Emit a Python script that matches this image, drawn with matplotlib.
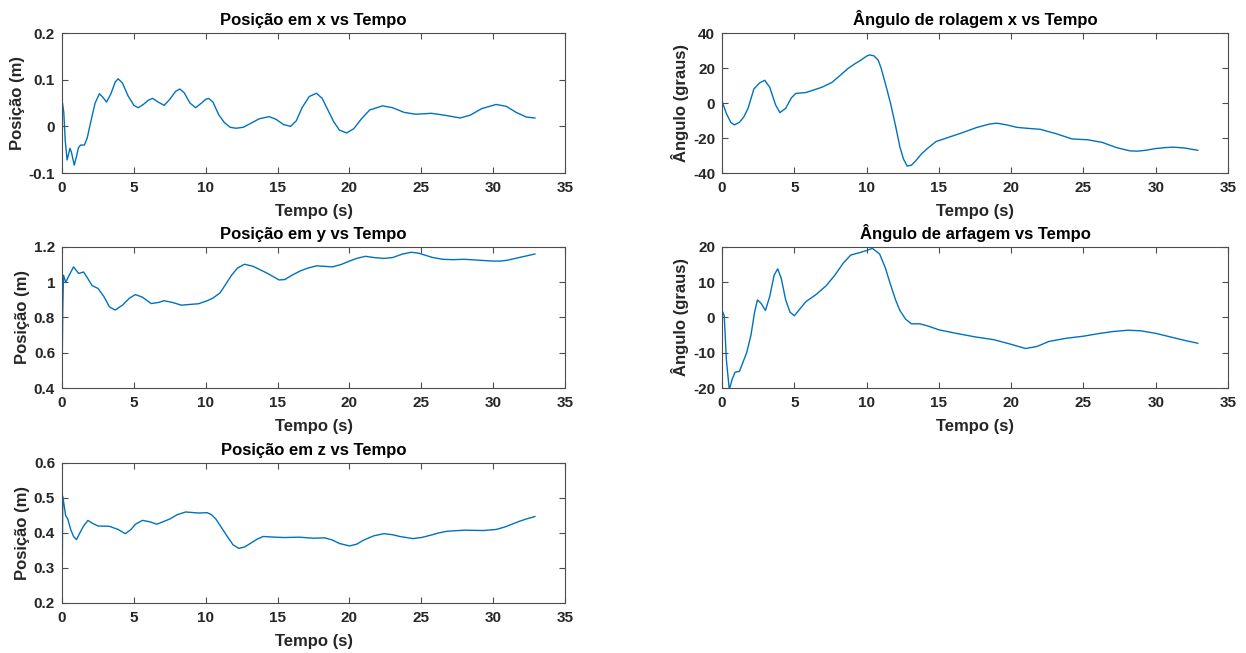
import matplotlib.pyplot as plt

plt.rcParams['font.family'] = ['Liberation Sans', 'DejaVu Sans']
plt.rcParams['font.weight'] = 'bold'

# Posição em x (m)
TX = [0.0, 0.03, 0.12, 0.22, 0.35, 0.45, 0.55, 0.65, 0.85, 1.0, 1.15, 1.3, 1.55, 1.75, 2.0, 2.3,
      2.6, 2.85, 3.1, 3.4, 3.7, 3.9, 4.2, 4.6, 5.0, 5.3, 5.7, 6.0, 6.3, 6.7, 7.1, 7.5, 7.9, 8.2,
      8.5, 8.9, 9.3, 9.7, 10.0, 10.2, 10.5, 10.9, 11.3, 11.7, 12.1, 12.6, 13.1, 13.7, 14.4, 14.9,
      15.4, 15.9, 16.3, 16.7, 17.2, 17.7, 18.1, 18.5, 18.9, 19.3, 19.8, 20.3, 20.8, 21.4, 22.3,
      23.0, 23.8, 24.6, 25.7, 26.6, 27.7, 28.4, 29.2, 30.2, 30.9, 31.6, 32.3, 32.9]
PosX = [0.0, 0.05, 0.03, -0.03, -0.072, -0.06, -0.047, -0.055, -0.083, -0.065, -0.045, -0.04,
        -0.04, -0.025, 0.01, 0.05, 0.07, 0.062, 0.052, 0.07, 0.095, 0.102, 0.093, 0.065, 0.045,
        0.04, 0.048, 0.056, 0.06, 0.052, 0.045, 0.058, 0.075, 0.08, 0.072, 0.05, 0.04, 0.05, 0.058,
        0.06, 0.052, 0.025, 0.008, -0.002, -0.004, -0.002, 0.006, 0.016, 0.021, 0.015, 0.004, 0.0,
        0.012, 0.04, 0.064, 0.071, 0.06, 0.035, 0.01, -0.008, -0.014, -0.005, 0.015, 0.035, 0.044,
        0.04, 0.03, 0.026, 0.028, 0.024, 0.018, 0.024, 0.038, 0.047, 0.043, 0.03, 0.02, 0.018]

# Ângulo de rolagem (graus)
TRoll = [0.0, 0.3, 0.6, 0.85, 1.2, 1.5, 1.8, 2.2, 2.6, 2.95, 3.3, 3.7, 4.0, 4.4, 4.8, 5.1, 5.8,
         6.9, 7.6, 8.2, 8.7, 9.2, 9.6, 10.0, 10.2, 10.5, 10.8, 11.0, 11.3, 11.65, 12.0, 12.3,
         12.55, 12.8, 13.1, 13.4, 13.8, 14.2, 14.8, 15.7, 16.6, 17.6, 18.5, 19.0, 19.7, 20.4,
         21.2, 22.0, 23.1, 24.2, 25.3, 26.3, 27.3, 28.2, 28.7, 29.3, 30.0, 30.6, 31.2, 32.0, 32.9]
Roll = [1.0, -6.0, -11.0, -12.5, -11.0, -8.0, -3.0, 8.0, 11.5, 13.0, 9.0, -1.0, -5.5, -3.0, 3.0,
        5.5, 6.0, 9.0, 11.8, 16.0, 19.7, 22.5, 24.5, 26.8, 27.5, 27.0, 24.5, 20.0, 11.0, 0.0,
        -13.0, -25.0, -32.0, -36.0, -35.5, -33.0, -29.0, -26.0, -22.0, -19.5, -17.0, -14.0,
        -12.0, -11.5, -12.5, -13.9, -14.5, -15.0, -17.5, -20.5, -21.0, -22.5, -25.5, -27.3,
        -27.5, -27.0, -26.0, -25.5, -25.2, -25.7, -27.0]

# Posição em y (m)
TY = [0.0, 0.05, 0.1, 0.25, 0.5, 0.8, 1.15, 1.5, 1.8, 2.1, 2.5, 2.9, 3.3, 3.7, 4.2, 4.7, 5.1,
      5.6, 6.2, 6.7, 7.1, 7.7, 8.3, 9.5, 10.1, 10.5, 11.0, 11.4, 11.8, 12.2, 12.7, 13.3, 13.8,
      14.3, 15.1, 15.5, 16.0, 16.6, 17.1, 17.7, 18.3, 18.8, 19.4, 20.0, 20.5, 21.1, 21.7, 22.4,
      23.0, 23.7, 24.3, 24.8, 25.2, 25.8, 26.5, 27.2, 28.0, 29.0, 29.9, 30.5, 31.0, 31.8, 32.9]
PosY = [0.45, 0.85, 1.04, 1.0, 1.04, 1.087, 1.05, 1.058, 1.02, 0.98, 0.965, 0.92, 0.86, 0.842,
        0.87, 0.91, 0.93, 0.915, 0.879, 0.885, 0.895, 0.885, 0.87, 0.878, 0.895, 0.91, 0.94,
        0.99, 1.04, 1.08, 1.102, 1.09, 1.07, 1.05, 1.013, 1.015, 1.04, 1.065, 1.08, 1.093, 1.09,
        1.087, 1.1, 1.12, 1.135, 1.147, 1.14, 1.135, 1.14, 1.16, 1.17, 1.165, 1.155, 1.14, 1.13,
        1.128, 1.13, 1.125, 1.12, 1.12, 1.125, 1.14, 1.16]

# Ângulo de arfagem (graus)
TPitch = [0.0, 0.15, 0.3, 0.5, 0.7, 0.9, 1.2, 1.7, 2.0, 2.25, 2.45, 2.7, 3.0, 3.3, 3.6, 3.85,
          4.1, 4.4, 4.7, 5.0, 5.4, 5.8, 6.5, 7.2, 7.8, 8.4, 8.9, 9.6, 10.0, 10.4, 10.9, 11.3,
          11.6, 12.0, 12.3, 12.7, 13.1, 13.7, 14.3, 15.0, 16.2, 17.5, 18.8, 19.9, 21.0, 21.8,
          22.6, 23.8, 25.0, 26.0, 27.0, 28.1, 29.0, 30.0, 31.0, 32.0, 32.9]
Pitch = [2.0, 0.5, -12.0, -20.5, -17.5, -15.5, -15.3, -10.0, -5.0, 1.5, 5.0, 4.0, 2.0, 6.0, 12.0,
         13.8, 11.0, 5.0, 1.5, 0.5, 2.5, 4.5, 6.5, 9.0, 12.0, 15.5, 17.7, 18.5, 19.0, 19.6, 18.0,
         14.0, 10.0, 5.0, 2.0, -0.5, -1.8, -1.8, -2.5, -3.5, -4.5, -5.5, -6.3, -7.5, -8.8, -8.2,
         -6.8, -5.9, -5.3, -4.6, -4.0, -3.6, -3.8, -4.5, -5.5, -6.5, -7.3]

# Posição em z (m)
TZ = [0.0, 0.05, 0.25, 0.4, 0.6, 0.8, 1.0, 1.3, 1.5, 1.8, 2.1, 2.5, 3.3, 3.9, 4.4, 4.8, 5.1, 5.6,
      6.1, 6.6, 7.5, 8.0, 8.6, 9.5, 10.1, 10.4, 10.7, 11.1, 11.5, 11.9, 12.3, 12.7, 13.1, 13.6,
      14.0, 14.8, 15.5, 16.5, 17.5, 18.3, 18.8, 19.3, 20.0, 20.5, 21.0, 21.7, 22.4, 23.0, 23.5,
      24.4, 25.0, 25.5, 26.2, 26.8, 28.0, 29.3, 30.2, 30.8, 31.3, 31.8, 32.3, 32.9]
PosZ = [0.23, 0.505, 0.45, 0.44, 0.41, 0.39, 0.381, 0.405, 0.42, 0.436, 0.428, 0.42, 0.419,
        0.41, 0.398, 0.41, 0.425, 0.436, 0.432, 0.425, 0.44, 0.452, 0.46, 0.457, 0.458, 0.452,
        0.44, 0.415, 0.39, 0.366, 0.356, 0.36, 0.37, 0.383, 0.39, 0.388, 0.387, 0.388, 0.385,
        0.386, 0.38, 0.37, 0.363, 0.368, 0.38, 0.392, 0.398, 0.395, 0.39, 0.384, 0.387, 0.392,
        0.4, 0.405, 0.408, 0.407, 0.41, 0.417, 0.425, 0.433, 0.44, 0.447]

LineColor = '#0072BD'
EdgeColor = '#4d4d4d'
TextColor = '#262626'

Fig = plt.figure(figsize=(12.46, 6.53), dpi=100)

Panels = [
    ([0.0498, 0.735, 0.4037, 0.2144], TX, PosX, 'Posição em x vs Tempo', 'Posição (m)',
     (-0.1, 0.2), [-0.1, 0, 0.1, 0.2], ['-0.1', '0', '0.1', '0.2']),
    ([0.5795, 0.735, 0.4061, 0.2144], TRoll, Roll, 'Ângulo de rolagem x vs Tempo', 'Ângulo (graus)',
     (-40, 40), [-40, -20, 0, 20, 40], ['-40', '-20', '0', '20', '40']),
    ([0.0498, 0.4058, 0.4037, 0.2160], TY, PosY, 'Posição em y vs Tempo', 'Posição (m)',
     (0.4, 1.2), [0.4, 0.6, 0.8, 1.0, 1.2], ['0.4', '0.6', '0.8', '1', '1.2']),
    ([0.5795, 0.4058, 0.4061, 0.2160], TPitch, Pitch, 'Ângulo de arfagem vs Tempo', 'Ângulo (graus)',
     (-20, 20), [-20, -10, 0, 10, 20], ['-20', '-10', '0', '10', '20']),
    ([0.0498, 0.0766, 0.4037, 0.2144], TZ, PosZ, 'Posição em z vs Tempo', 'Posição (m)',
     (0.2, 0.6), [0.2, 0.3, 0.4, 0.5, 0.6], ['0.2', '0.3', '0.4', '0.5', '0.6']),
]

for Rect, T, V, Title, YLab, YLim, YTicks, YTickLabels in Panels:
    Ax = Fig.add_axes(Rect)
    Ax.plot(T, V, color=LineColor, linewidth=1.0)
    Ax.set_xlim(0, 35)
    Ax.set_ylim(*YLim)
    Ax.set_xticks(range(0, 36, 5))
    Ax.set_yticks(YTicks)
    Ax.set_yticklabels(YTickLabels)
    Ax.set_title(Title, fontsize=12, fontweight='bold', color='black', pad=6)
    Ax.set_xlabel('Tempo (s)', fontsize=12, fontweight='bold', color=TextColor, labelpad=6)
    Ax.set_ylabel(YLab, fontsize=12, fontweight='bold', color=TextColor, labelpad=3)
    Ax.tick_params(direction='in', length=4, width=0.8, top=True, right=True,
                   labelsize=11, colors=EdgeColor, labelcolor=TextColor)
    Ax.tick_params(axis='x', pad=6)
    Ax.tick_params(axis='y', pad=5)
    for Side in Ax.spines.values():
        Side.set_color(EdgeColor)
        Side.set_linewidth(0.8)

Fig.savefig('out.png', dpi=100, facecolor='white')
